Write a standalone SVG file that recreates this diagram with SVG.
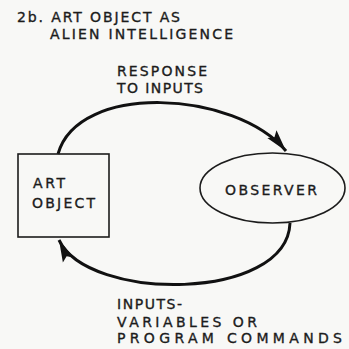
<svg xmlns="http://www.w3.org/2000/svg" width="349" height="349" viewBox="0 0 349 349">
<style>
text{font-family:"DejaVu Sans","Liberation Sans",sans-serif;font-size:14px;fill:#1c1c1c;stroke:#1c1c1c;stroke-width:0.35;}
.node{fill:none;stroke:#1c1c1c;stroke-width:1.6;}
.conn{fill:none;stroke:#111;stroke-width:3;}
</style>
<defs>
<marker id="arr" markerUnits="userSpaceOnUse" markerWidth="24" markerHeight="14" refX="22" refY="7" orient="auto">
<path d="M0,1 L22,7 L0,13 L4,7 Z" fill="#111"/>
</marker>
</defs>
<rect width="349" height="349" fill="#f8f8f6"/>
<g id="title">
<text x="17" y="22" textLength="163" lengthAdjust="spacing">2b. ART OBJECT AS</text>
<text x="50" y="39" textLength="183" lengthAdjust="spacing">ALIEN INTELLIGENCE</text>
</g>
<g id="connectors">
<path class="conn" d="M58,154 C78,82 235,90 286,151" marker-end="url(#arr)"/>
<path class="conn" d="M290,223 C287,302 88,302 59,240" marker-end="url(#arr)"/>
</g>
<g id="art-object">
<rect class="node" x="18" y="154" width="91" height="83"/>
<text x="33" y="188" textLength="32" lengthAdjust="spacing">ART</text>
<text x="32" y="207.5" textLength="63" lengthAdjust="spacing">OBJECT</text>
</g>
<g id="observer">
<ellipse class="node" cx="272.5" cy="188" rx="72.5" ry="35"/>
<text x="225" y="195" textLength="92" lengthAdjust="spacing">OBSERVER</text>
</g>
<g id="label-response">
<text x="117" y="76" textLength="90" lengthAdjust="spacing">RESPONSE</text>
<text x="117" y="93" textLength="86" lengthAdjust="spacing">TO INPUTS</text>
</g>
<g id="label-inputs">
<text x="117" y="309" textLength="65" lengthAdjust="spacing">INPUTS-</text>
<text x="117" y="326.5" textLength="140" lengthAdjust="spacing">VARIABLES OR</text>
<text x="117" y="343" textLength="225" lengthAdjust="spacing">PROGRAM COMMANDS</text>
</g>
</svg>
